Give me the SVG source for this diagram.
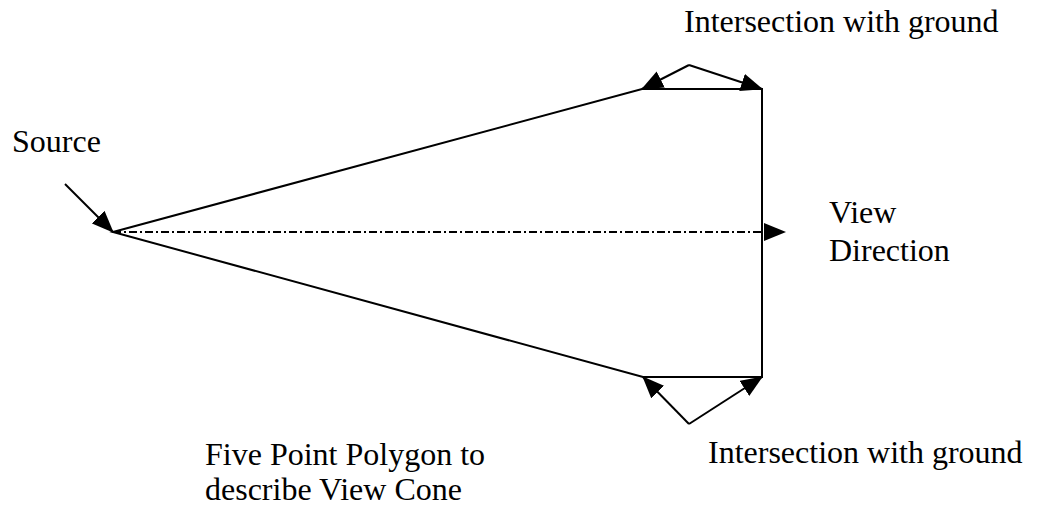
<svg xmlns="http://www.w3.org/2000/svg" width="1038" height="506" viewBox="0 0 1038 506">
<style>
.ln{stroke:#000;stroke-width:2;fill:none}
.ar{marker-end:url(#ah)}
.dd{stroke-dasharray:8 3 2 3}
text{font-family:"Liberation Serif","Times New Roman",serif;font-size:32px;fill:#000}
</style>
<defs>
<marker id="ah" markerUnits="userSpaceOnUse" markerWidth="22" markerHeight="18" refX="21" refY="9" orient="auto">
<path d="M0,0 L22,9 L0,18 z" fill="#000"/>
</marker>
</defs>
<rect width="1038" height="506" fill="#fff"/>
<g id="connectors">
<path class="ln" d="M113,232 L642,89 L762,89 L762,377 L643,377 Z"/>
<line class="ln dd ar" x1="113" y1="232" x2="785" y2="232"/>
<line class="ln ar" x1="65" y1="184" x2="113" y2="232"/>
<line class="ln ar" x1="689" y1="65" x2="642" y2="89"/>
<line class="ln ar" x1="689" y1="65" x2="762" y2="89"/>
<line class="ln ar" x1="689" y1="424" x2="643" y2="377"/>
<line class="ln ar" x1="689" y1="424" x2="762" y2="377"/>
</g>
<g id="label-top"><text x="684" y="32">Intersection with ground</text></g>
<g id="label-source"><text x="12" y="152">Source</text></g>
<g id="label-view"><text x="829" y="223">View</text><text x="829" y="261">Direction</text></g>
<g id="label-polygon"><text x="205" y="465">Five Point Polygon to</text><text x="205" y="500">describe View Cone</text></g>
<g id="label-bottom"><text x="708" y="463">Intersection with ground</text></g>
</svg>
